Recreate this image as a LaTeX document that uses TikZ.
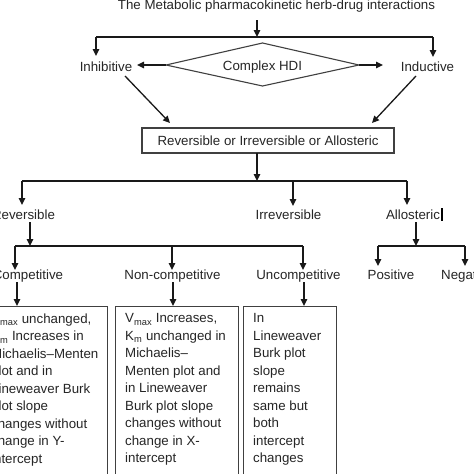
\documentclass[tikz,border=0pt]{standalone}
\usepackage{fontspec}
\setmainfont{Liberation Sans}
\usetikzlibrary{arrows.meta,shapes.geometric}
\tikzset{
  lbl/.style={inner sep=0pt, anchor=base, font=\fontsize{13.3}{17.5}\selectfont, text=black!85},
  btxt/.style={inner sep=0pt, anchor=north west, align=left, font=\fontsize{13.3}{17.5}\selectfont, text=black!85},
  conn/.style={line width=1.3pt, black!90},
  arr/.style={conn, -{Triangle[length=7pt,width=6.5pt]}},
  boxline/.style={draw=black!75, line width=1.1pt},
}
\begin{document}
\begin{tikzpicture}[x=1pt,y=-1pt]
\useasboundingbox (0,0) rectangle (474,474);
\clip (0,0) rectangle (474,474);
\fill[white] (0,0) rectangle (474,474);

% title
\node[lbl] (title) at (276.5,9) {The Metabolic pharmacokinetic herb-drug interactions};
\coordinate (t0) at (257,20);
\coordinate (t1) at (257,37);
\coordinate (tl) at (96,37);
\coordinate (tr) at (433,37);
\coordinate (tle) at (96,56);
\coordinate (tre) at (433,57);
\draw[arr] (t0) -- (t1);
\draw[conn] (tl) -- (tr);
\draw[arr] (tl) -- (tle);
\draw[arr] (tr) -- (tre);

% second row
\node[lbl] (inh) at (106,71) {Inhibitive};
\node[lbl] (ind) at (427.5,71) {Inductive};
\coordinate (dl) at (166,65);
\coordinate (dt) at (262.5,43);
\coordinate (dr) at (359,65);
\coordinate (db) at (262.5,86);
\draw[boxline] (dl) -- (dt) -- (dr) -- (db) -- cycle;
\node[lbl] (hdi) at (262.5,70) {Complex HDI};
\coordinate (inhr) at (137,65);
\coordinate (indl) at (383,65);
\draw[arr] (dl) -- (inhr);
\draw[arr] (dr) -- (indl);

% box reversible or ...
\node[boxline, rectangle, minimum width=252pt, minimum height=25pt, inner sep=0pt] (rbox) at (268,140.5) {};
\node[lbl] (rtxt) at (268,145) {Reversible or Irreversible or Allosteric};
\coordinate (inhd) at (125,76);
\coordinate (indd) at (416,76);
\coordinate (rin1) at (170,123);
\coordinate (rin2) at (372,123);
\draw[arr] (inhd) -- (rin1);
\draw[arr] (indd) -- (rin2);

% split into three
\coordinate (r0) at (257,153);
\coordinate (r1) at (257,181);
\coordinate (rl) at (22,181);
\coordinate (rm) at (293,181);
\coordinate (rr) at (407,181);
\draw[arr] (r0) -- (r1);
\draw[conn] (rl) -- (rr);
\draw[arr] (rl) -- (22,205) coordinate (rle);
\draw[arr] (rm) -- (293,206) coordinate (rme);
\draw[arr] (rr) -- (407,205) coordinate (rre);

\node[lbl] (rev) at (23.5,219) {Reversible};
\node[lbl] (irr) at (288.5,219) {Irreversible};
\node[lbl] (allo) at (413,219) {Allosteric};
\coordinate (cur1) at (442,208);
\coordinate (cur2) at (442,221);
\draw[line width=1.5pt, black] (cur1) -- (cur2);

% reversible split
\coordinate (v0) at (30,222);
\coordinate (v1) at (30,246);
\coordinate (vl) at (15,246);
\coordinate (vm) at (172,246);
\coordinate (vr) at (303,246);
\draw[arr] (v0) -- (v1);
\draw[conn] (vl) -- (vr);
\draw[arr] (vl) -- (15,270) coordinate (vle);
\draw[arr] (vm) -- (172,270) coordinate (vme);
\draw[arr] (vr) -- (303,270) coordinate (vre);

% allosteric split
\coordinate (a0) at (416,222);
\coordinate (a1) at (416,246);
\coordinate (al) at (378,246);
\coordinate (ar) at (465,246);
\draw[arr] (a0) -- (a1);
\draw[conn] (al) -- (ar);
\draw[arr] (al) -- (378,266) coordinate (ale);
\draw[arr] (ar) -- (465,266) coordinate (are);

\node[lbl] (comp) at (28,279) {Competitive};
\node[lbl] (ncomp) at (172.5,279) {Non-competitive};
\node[lbl] (ucomp) at (298.5,279) {Uncompetitive};
\node[lbl] (pos) at (391,279) {Positive};
\node[lbl, anchor=base west] (neg) at (441,279) {Negative};

% arrows to boxes
\coordinate (c0) at (17,282);
\coordinate (c1) at (17,306);
\coordinate (n0) at (173,282);
\coordinate (n1) at (173,306);
\coordinate (u0) at (304,282);
\coordinate (u1) at (304,306);
\draw[arr] (c0) -- (c1);
\draw[arr] (n0) -- (n1);
\draw[arr] (u0) -- (u1);

% boxes
\node[boxline, rectangle, inner sep=0pt, minimum width=126pt, minimum height=180pt, anchor=north west] (b1) at (-19,306) {};
\node[boxline, rectangle, inner sep=0pt, minimum width=123pt, minimum height=180pt, anchor=north west] (b2) at (115,306) {};
\node[boxline, rectangle, inner sep=0pt, minimum width=93pt, minimum height=180pt, anchor=north west] (b3) at (243,306) {};

\node[btxt] (b1t) at (-9,313.5) {V\textsubscript{max} unchanged,\\K\textsubscript{m} Increases in\\Michaelis–Menten\\plot and in\\Lineweaver Burk\\plot slope\\changes without\\change in Y-\\intercept};
\node[btxt] (b2t) at (125,313.5) {V\textsubscript{max} Increases,\\K\textsubscript{m} unchanged in\\Michaelis–\\Menten plot  and\\in Lineweaver\\Burk plot slope\\changes without\\change in X-\\intercept};
\node[btxt] (b3t) at (253,313.5) {In\\Lineweaver\\Burk plot\\slope\\remains\\same but\\both\\intercept\\changes};
\end{tikzpicture}
\end{document}
